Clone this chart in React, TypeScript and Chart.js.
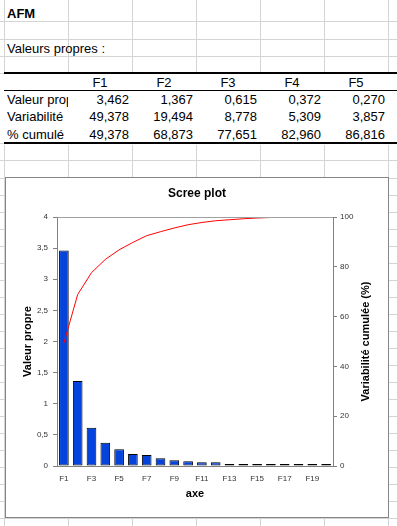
import React, { useEffect, useRef } from 'react';
import { Chart, registerables } from 'chart.js';

Chart.register(...registerables);

// ---- Data ----
const FACTORS = ['F1', 'F2', 'F3', 'F4', 'F5', 'F6', 'F7', 'F8', 'F9', 'F10', 'F11', 'F12', 'F13', 'F14', 'F15', 'F16', 'F17', 'F18', 'F19', 'F20'];
const EIGENVALUES = [3.462, 1.367, 0.615, 0.372, 0.27, 0.193, 0.177, 0.124, 0.094, 0.076, 0.062, 0.062, 0.03, 0.015, 0.015, 0.015, 0.015, 0.015, 0.015, 0.015];
const VARIABILITY = [49.378, 19.494, 8.778, 5.309, 3.857];
const CUMULATIVE = [49.378, 68.873, 77.651, 82.96, 86.816, 89.8, 92.5, 94.1, 95.6, 96.9, 97.8, 98.5, 98.9, 99.3, 99.6, 99.8, 100, 100, 100, 100];
const TABLE_COLUMNS = ['F1', 'F2', 'F3', 'F4', 'F5'];
const ROW_LABELS = ['Valeur propre', 'Variabilité', '% cumulé'];
const LEFT_TICKS_MAX = 4;
const LEFT_TICKS_STEP = 0.5;
const RIGHT_TICKS_MAX = 100;
const RIGHT_TICKS_STEP = 20;
const RIGHT_TITLE = 'Variabilité cumulée (%)';

// ---- Layout (sheet) ----
const COL_X = [4, 68, 132, 196, 260, 324, 388];
const ROW_Y = [21, 39, 56, 73, 90, 108, 125, 143, 160, 178, 195, 212, 229, 246, 263, 280, 297, 314, 331, 348, 365, 382, 399, 416, 433, 450, 467, 484, 501, 518];
const FONT = '"Liberation Sans", Arial, sans-serif';

const fmt3 = (v: number) => v.toFixed(3).replace('.', ',');

function Cell(props: { x: number; y: number; w: number; h: number; align: 'left' | 'right' | 'center'; bold?: boolean; text: string }) {
  const { x, y, w, h, align, bold, text } = props;
  return (
    <div
      style={{
        position: 'absolute',
        left: x,
        top: y,
        width: w,
        height: h,
        lineHeight: h + 'px',
        textAlign: align,
        fontWeight: bold ? 'bold' : 'normal',
        overflow: 'hidden',
        whiteSpace: 'nowrap',
        paddingLeft: align === 'left' ? 3 : 0,
        paddingRight: align === 'right' ? 3 : 0,
        boxSizing: 'border-box',
        fontSize: 13,
        fontFamily: FONT,
        color: '#000',
      }}
    >
      {text}
    </div>
  );
}

export default function App() {
  const ref = useRef<HTMLCanvasElement>(null);

  useEffect(() => {
    const extras = {
      id: 'extras',
      afterDatasetsDraw(chart: any) {
        const { ctx, chartArea } = chart;
        ctx.save();
        ctx.strokeStyle = '#a0a0a0';
        ctx.lineWidth = 1;
        const y = Math.round(chartArea.top) + 0.5;
        ctx.beginPath();
        ctx.moveTo(chartArea.left, y);
        ctx.lineTo(chartArea.right, y);
        ctx.stroke();
        ctx.restore();
      },
      afterDraw(chart: any) {
        const { ctx, chartArea, width } = chart;
        ctx.save();
        ctx.translate(width - 22, (chartArea.top + chartArea.bottom) / 2);
        ctx.rotate(-Math.PI / 2);
        ctx.font = 'bold 11px ' + FONT;
        ctx.fillStyle = '#000';
        ctx.textAlign = 'center';
        ctx.textBaseline = 'middle';
        ctx.fillText(RIGHT_TITLE, 0, 0);
        ctx.restore();
      },
    };

    const tickFont = { family: FONT, size: 8 };
    const titleFont = { family: FONT, size: 11, weight: 'bold' as const };

    const chart = new Chart(ref.current!, {
      type: 'bar',
      data: {
        labels: FACTORS,
        datasets: [
          {
            type: 'line' as const,
            label: RIGHT_TITLE,
            data: CUMULATIVE,
            yAxisID: 'y1',
            borderColor: '#ff0000',
            borderWidth: 1,
            pointRadius: 0,
            tension: 0,
            fill: false,
            order: 0,
          },
          {
            type: 'bar' as const,
            label: 'Valeur propre',
            data: EIGENVALUES,
            yAxisID: 'y',
            backgroundColor: '#0543dd',
            borderColor: '#000000',
            borderWidth: 1,
            borderSkipped: false,
            minBarLength: 2,
            barPercentage: 0.7,
            categoryPercentage: 1,
            order: 1,
          },
        ],
      } as any,
      options: {
        responsive: false,
        animation: false,
        devicePixelRatio: 1,
        layout: { padding: 0 },
        plugins: {
          legend: { display: false },
          tooltip: { enabled: false },
          title: {
            display: true,
            text: 'Scree plot',
            color: '#000',
            font: { family: FONT, size: 12, weight: 'bold' },
            padding: { top: 8.8, bottom: 15.8 },
          },
        },
        scales: {
          x: {
            position: 'bottom',
            grid: { display: false, drawTicks: false },
            border: { display: true, color: '#808080' },
            ticks: {
              autoSkip: false,
              maxRotation: 0,
              minRotation: 0,
              padding: 8,
              color: '#333',
              font: tickFont,
              callback: (_v: any, i: number) => (i % 2 === 0 ? FACTORS[i] : ''),
            },
            title: { display: true, text: 'axe', color: '#000', font: titleFont, padding: { top: 0, bottom: 16.4 } },
            afterFit: (s: any) => {
              s.height = 51;
            },
          },
          y: {
            position: 'left',
            min: 0,
            max: LEFT_TICKS_MAX,
            grid: { drawOnChartArea: false, drawTicks: true, tickLength: 4, color: '#808080' },
            border: { display: true, color: '#808080' },
            ticks: {
              stepSize: LEFT_TICKS_STEP,
              padding: 5,
              color: '#333',
              font: tickFont,
              callback: (v: any) => String(v).replace('.', ','),
            },
            title: { display: true, text: 'Valeur propre', color: '#000', font: titleFont, padding: { top: 15.4, bottom: 0 } },
            afterFit: (s: any) => {
              s.width = 51;
            },
          },
          y1: {
            position: 'right',
            min: 0,
            max: RIGHT_TICKS_MAX,
            grid: { drawOnChartArea: false, drawTicks: true, tickLength: 4, color: '#808080' },
            border: { display: true, color: '#808080' },
            ticks: {
              stepSize: RIGHT_TICKS_STEP,
              padding: 3,
              color: '#333',
              font: tickFont,
            },
            title: { display: false },
            afterFit: (s: any) => {
              s.width = 55;
            },
          },
        },
      } as any,
      plugins: [extras],
    });
    return () => chart.destroy();
  }, []);

  const tableRows = [EIGENVALUES.slice(0, 5), VARIABILITY, CUMULATIVE.slice(0, 5)];

  return (
    <div style={{ position: 'fixed', left: 0, top: 0, width: 397, height: 526, background: '#fff', overflow: 'hidden', fontFamily: FONT }}>
      {/* sheet gridlines */}
      {ROW_Y.map((y, i) =>
        y > 73 && y < 143 ? null : (
          <div key={'h' + i} style={{ position: 'absolute', left: 0, top: y, width: 397, height: 1, background: '#d4d4d4' }} />
        )
      )}
      {COL_X.map((x, i) => (
        <React.Fragment key={'v' + i}>
          <div style={{ position: 'absolute', left: x, top: 0, width: 1, height: 72, background: '#d4d4d4' }} />
          <div style={{ position: 'absolute', left: x, top: 145, width: 1, height: 381, background: '#d4d4d4' }} />
        </React.Fragment>
      ))}
      {/* table borders */}
      <div style={{ position: 'absolute', left: 4, top: 72, width: 393, height: 2, background: '#000' }} />
      <div style={{ position: 'absolute', left: 4, top: 90, width: 393, height: 1, background: '#000' }} />
      <div style={{ position: 'absolute', left: 4, top: 142, width: 393, height: 2, background: '#000' }} />

      <Cell x={4} y={5} w={150} h={17} align="left" bold text="AFM" />
      <Cell x={4} y={40} w={200} h={17} align="left" text="Valeurs propres :" />
      {TABLE_COLUMNS.map((c, j) => (
        <Cell key={'c' + j} x={COL_X[j + 1]} y={74} w={64} h={17} align="center" text={c} />
      ))}
      {ROW_LABELS.map((r, i) => (
        <React.Fragment key={'r' + i}>
          <Cell x={4} y={91 + i * 17.3} w={64} h={17} align="left" text={r} />
          {tableRows[i].map((v, j) => (
            <Cell key={'n' + j} x={COL_X[j + 1]} y={91 + i * 17.3} w={64} h={17} align="right" text={fmt3(v)} />
          ))}
        </React.Fragment>
      ))}

      {/* chart object */}
      <div
        style={{
          position: 'absolute',
          left: 5,
          top: 177,
          width: 384,
          height: 341,
          border: '1px solid #858585',
          boxSizing: 'border-box',
          background: '#fff',
        }}
      >
        <canvas ref={ref} width={382} height={339} style={{ display: 'block', width: 382, height: 339 }} />
      </div>
    </div>
  );
}
